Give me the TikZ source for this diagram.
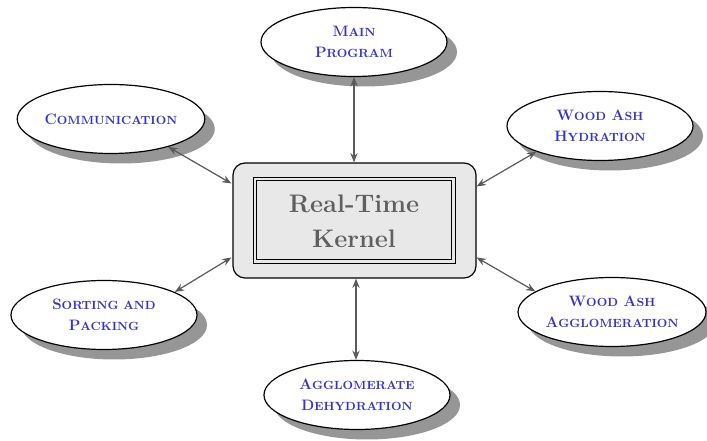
\documentclass[tikz,border=0pt]{standalone}
\usetikzlibrary{shapes.geometric,shadows,arrows.meta,calc}
\definecolor{lblue}{RGB}{52,52,200}
\definecolor{kgray}{RGB}{95,95,95}
\definecolor{agray}{RGB}{90,90,90}
\definecolor{sgray}{RGB}{150,150,150}
\definecolor{kfill}{RGB}{232,232,232}
\newcommand\Cap[2]{{\bfseries\fontsize{11.3}{16}\selectfont #1}{\bfseries\fontsize{8.9}{16}\selectfont #2}}
\tikzset{
  ell/.style={ellipse, draw=black, line width=0.9pt, fill=white,
    minimum width=139.5pt, minimum height=51.75pt, inner sep=0pt,
    align=center, text=lblue, font=\bfseries\fontsize{11.3}{16}\selectfont,
    drop shadow={shadow xshift=7.5pt, shadow yshift=-7.5pt, fill=sgray, opacity=1}},
  kbox/.style={rectangle, rounded corners=9pt, draw=black, line width=0.9pt,
    fill=kfill, minimum width=182.25pt, minimum height=86.25pt},
  kframe/.style={rectangle, draw=black, minimum width=151.5pt, minimum height=64.5pt, line width=0.6pt},
  kframein/.style={rectangle, draw=black, minimum width=146pt, minimum height=59pt, line width=1pt},
  ktext/.style={align=center, text=kgray, font=\bfseries\fontsize{19}{26}\selectfont},
  conn/.style={{Stealth[length=7pt,width=5.5pt]}-{Stealth[length=7pt,width=5.5pt]}, draw=agray, fill=agray, line width=0.9pt}
}
\begin{document}
\begin{tikzpicture}[x=0.75pt,y=-0.75pt]
\useasboundingbox (0,0) rectangle (707,441);
\node[kbox] (kernel) at (354.5,220.5) {};
\node[kframe] (kf1) at (354,220) {};
\node[kframein] (kf2) at (354,220) {};
\node[ktext] (kt) at (354,221) {Real-Time\\Kernel};

\node[ell] (main) at (354,42) {\Cap{M}{AIN}\\\Cap{P}{ROGRAM}};
\node[ell] (comm) at (111,119) {\Cap{C}{OMMUNICATION}};
\node[ell] (hyd) at (600,126) {\Cap{W}{OOD} \Cap{A}{SH}\\\Cap{H}{YDRATION}};
\node[ell] (sort) at (104,315) {\Cap{S}{ORTING AND}\\\Cap{P}{ACKING}};
\node[ell] (aggl) at (612,312) {\Cap{W}{OOD} \Cap{A}{SH}\\\Cap{A}{GGLOMERATION}};
\node[ell] (dehyd) at (357,395) {\Cap{A}{GGLOMERATE}\\\Cap{D}{EHYDRATION}};

\draw[conn] (main.south) -- (main.south |- kernel.north);
\draw[conn] ([xshift=-0.75pt]dehyd.north) -- ([xshift=-0.75pt]dehyd.north |- kernel.south);
\draw[conn] (comm.-26) -- ($(kernel.west)+(-1,-37)$);
\draw[conn] (hyd.-158) -- ($(kernel.east)+(0,-34)$);
\draw[conn] (sort.18) -- ($(kernel.west)+(-1,37)$);
\draw[conn] (aggl.165) -- ($(kernel.east)+(0,37)$);
\end{tikzpicture}
\end{document}
